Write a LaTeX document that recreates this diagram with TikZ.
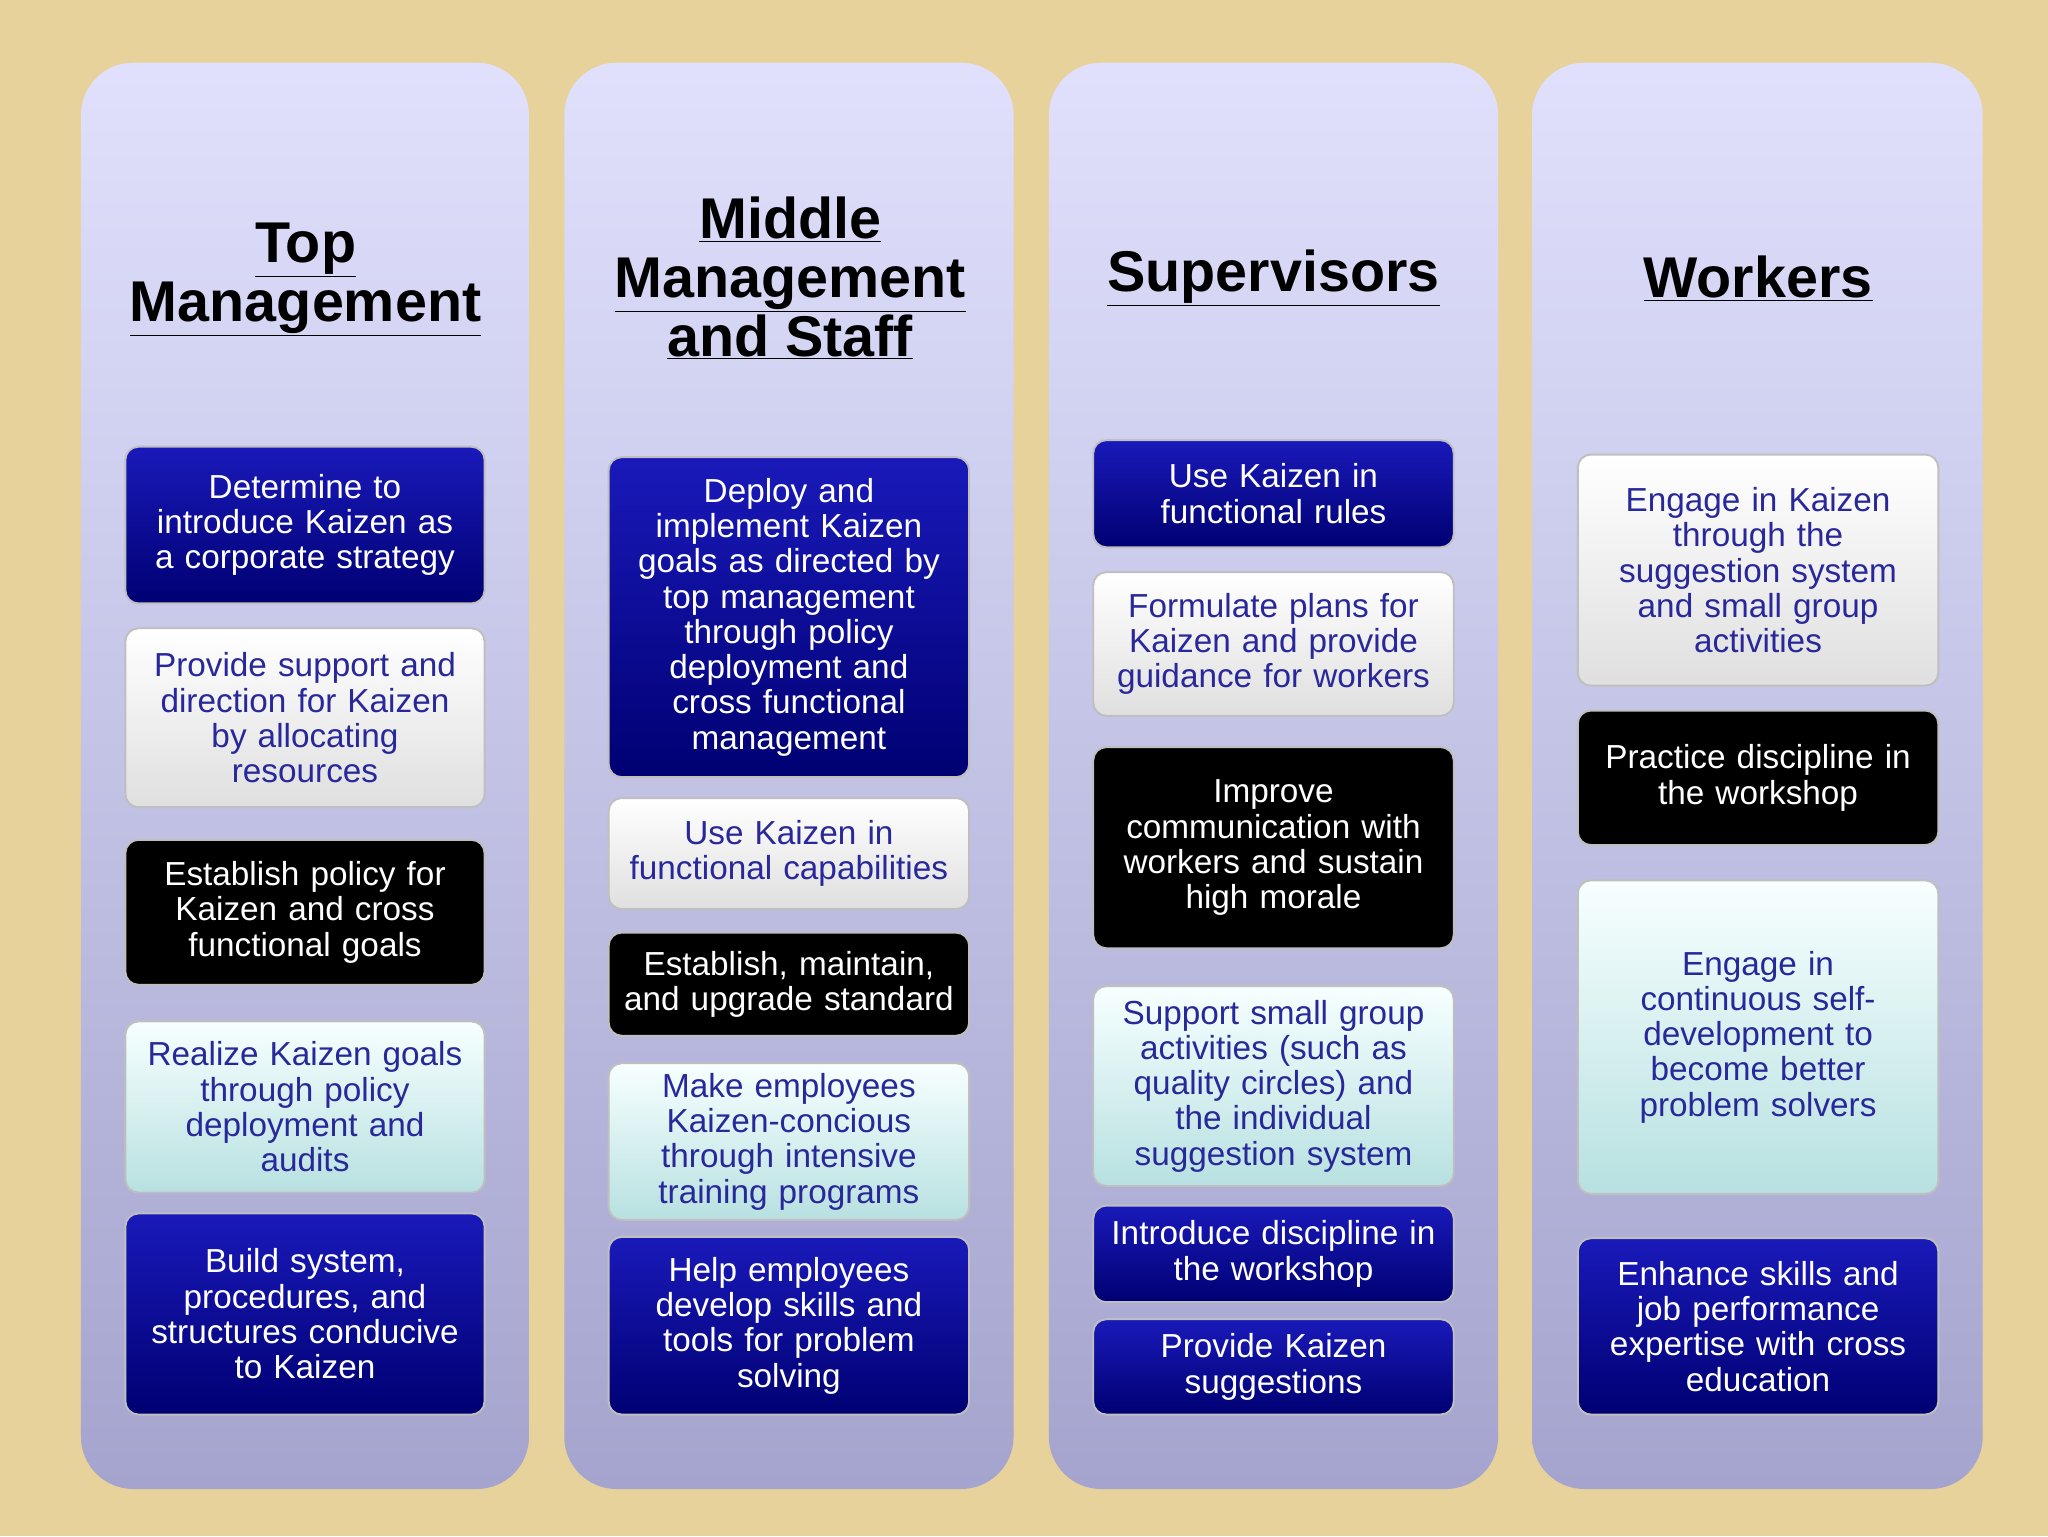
\documentclass[tikz,border=0pt]{standalone}
\usepackage{fontspec}
\setmainfont{Liberation Sans}
\definecolor{bg}{HTML}{E6D29A}
\definecolor{navy}{HTML}{28289A}
\newcommand\ul[1]{\underline{#1}}
\begin{document}
\begin{tikzpicture}[x=1pt,y=-1pt,
 col/.style={rounded corners=40pt,top color=black!8!blue!12!white,bottom color=blue!30!gray!55!white,draw=none},
 base/.style={rounded corners=10pt,align=center,inner sep=1pt,font=\fontsize{25.5}{27}\selectfont,draw=gray!50,line width=1.5pt},
 bluebox/.style={base,top color=blue!70!black!90!white,bottom color=blue!45!black,text=white},
 whitebox/.style={base,top color=white,bottom color=gray!25,text=navy},
 blackbox/.style={base,fill=black,text=white},
 lightbox/.style={base,top color=cyan!3!white,bottom color=cyan!40!gray!40!white,text=navy},
 head/.style={font=\fontsize{44}{45}\selectfont\bfseries,align=center}]
\fill[bg] (0,0) rectangle (1568,1176);
\useasboundingbox (0,0) rectangle (1568,1176);
\foreach \a/\b [count=\i] in {62/405,432/776,803/1147,1173/1518}
  \path[col] (\a,48) rectangle (\b,1140);
\newcommand\bx[7]{\node[#2,minimum width=#5-#3,minimum height=#6-#4,text width=#5-#3-4] (#1) at ({(#3+#5)/2},{(#4+#6)/2}) {#7};}
\node[head] (h1) at (234,214) {\ul{Top}\\\ul{Management}};
\node[head] (h2) at (605,213) {\ul{Middle}\\\ul{Management}\\\ul{and Staff}};
\node[head] (h3) at (975,213) {\ul{Supervisors}};
\node[head] (h4) at (1346,213) {\ul{Workers}};
\bx{a1}{bluebox}{96}{342}{371}{462}{Determine to\\introduce Kaizen as\\a corporate strategy}
\bx{a2}{whitebox}{96}{481}{371}{618}{Provide support and\\direction for Kaizen\\by allocating\\resources}
\bx{a3}{blackbox}{96}{643}{371}{754}{Establish policy for\\Kaizen and cross\\functional goals}
\bx{a4}{lightbox}{96}{782}{371}{913}{Realize Kaizen goals\\through policy\\deployment and\\audits}
\bx{a5}{bluebox}{96}{929}{371}{1083}{Build system,\\procedures, and\\structures conducive\\to Kaizen}
\bx{b1}{bluebox}{466}{350}{742}{595}{Deploy and\\implement Kaizen\\goals as directed by\\top management\\through policy\\deployment and\\cross functional\\management}
\bx{b2}{whitebox}{466}{611}{742}{696}{Use Kaizen in\\functional capabilities}
\bx{b3}{blackbox}{466}{714}{742}{793}{Establish, maintain,\\and upgrade standard}
\bx{b4}{lightbox}{466}{814}{742}{934}{Make employees\\Kaizen-concious\\through intensive\\training programs}
\bx{b5}{bluebox}{466}{947}{742}{1083}{Help employees\\develop skills and\\tools for problem\\solving}
\bx{c1}{bluebox}{837}{337}{1113}{419}{Use Kaizen in\\functional rules}
\bx{c2}{whitebox}{837}{438}{1113}{548}{Formulate plans for\\Kaizen and provide\\guidance for workers}
\bx{c3}{blackbox}{837}{572}{1113}{726}{Improve\\communication with\\workers and sustain\\high morale}
\bx{c4}{lightbox}{837}{755}{1113}{908}{Support small group\\activities (such as\\quality circles) and\\the individual\\suggestion system}
\bx{c5}{bluebox}{837}{923}{1113}{997}{Introduce discipline in\\the workshop}
\bx{c6}{bluebox}{837}{1010}{1113}{1083}{Provide Kaizen\\suggestions}
\bx{d1}{whitebox}{1208}{348}{1484}{525}{Engage in Kaizen\\through the\\suggestion system\\and small group\\activities}
\bx{d2}{blackbox}{1208}{544}{1484}{647}{Practice discipline in\\the workshop}
\bx{d3}{lightbox}{1208}{674}{1484}{914}{Engage in\\continuous self-\\development to\\become better\\problem solvers}
\bx{d4}{bluebox}{1208}{948}{1484}{1083}{Enhance skills and\\job performance\\expertise with cross\\education}
\end{tikzpicture}
\end{document}
